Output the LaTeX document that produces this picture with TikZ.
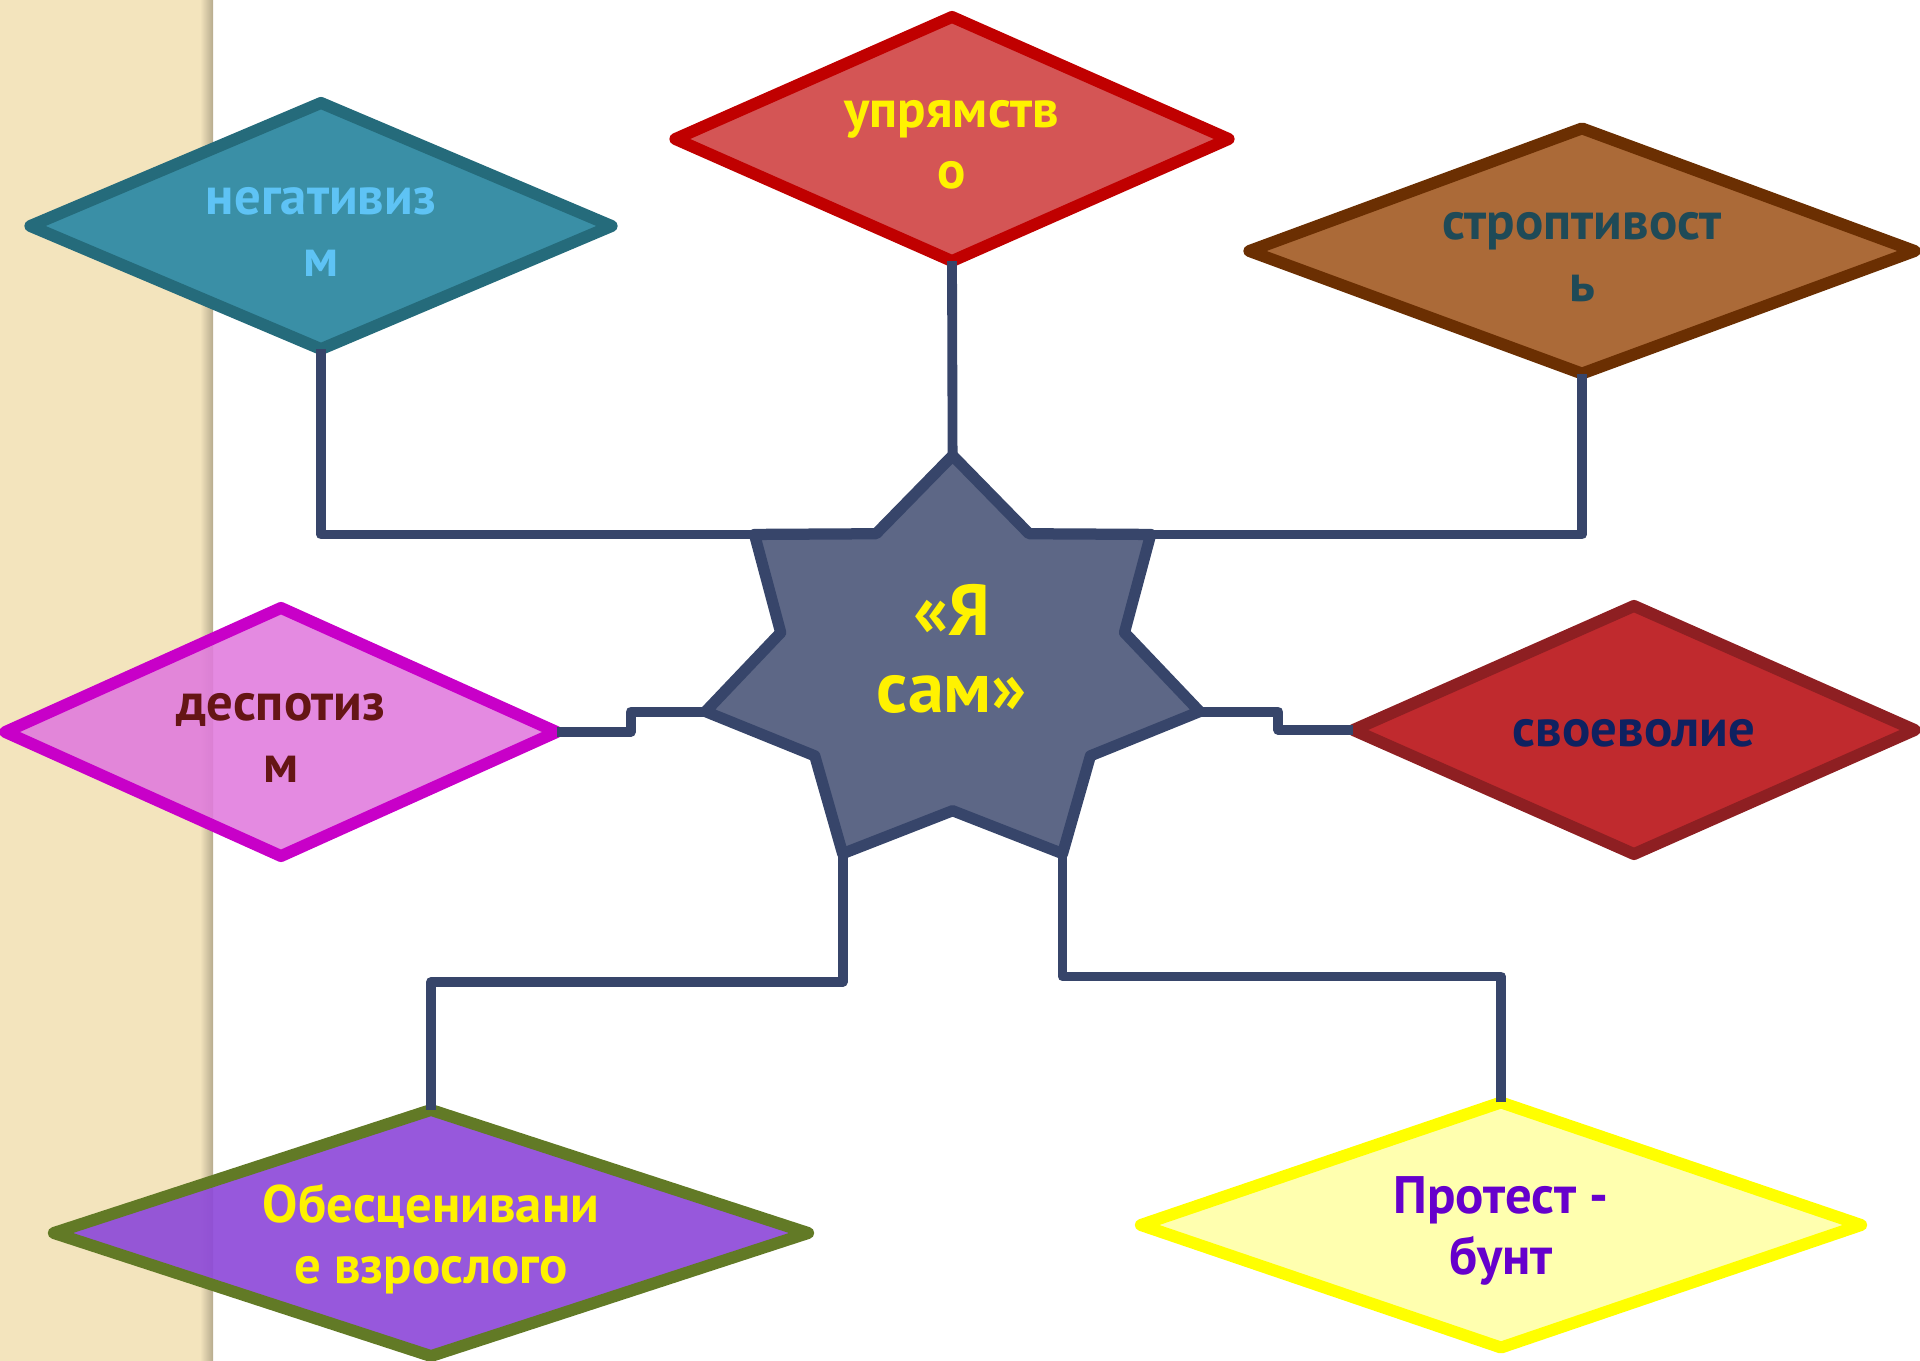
\documentclass[tikz,border=0pt]{standalone}
\usepackage{fontspec}
\setmainfont{PT Sans}
\usetikzlibrary{shapes.geometric,positioning,calc}

\definecolor{strip}{HTML}{F3E4BD}
\definecolor{navy}{HTML}{37456A}
\definecolor{starfill}{HTML}{5D6786}
\definecolor{negfill}{HTML}{3A8FA6}\definecolor{negline}{HTML}{256B7B}\definecolor{negtext}{HTML}{5EC3F5}
\definecolor{uprfill}{HTML}{D45555}\definecolor{uprline}{HTML}{C00000}
\definecolor{strfill}{HTML}{AB6A38}\definecolor{strline}{HTML}{6B2F02}\definecolor{strtext}{HTML}{1F4A57}
\definecolor{despfill}{HTML}{E07ADD}\definecolor{despline}{HTML}{C800C8}\definecolor{desptext}{HTML}{651515}
\definecolor{svofill}{HTML}{C02A2E}\definecolor{svoline}{HTML}{8E1F22}\definecolor{svotext}{HTML}{0F2160}
\definecolor{obesfill}{HTML}{8E4AD9}\definecolor{obesline}{HTML}{627A26}
\definecolor{protfill}{HTML}{FFFFAF}\definecolor{protline}{HTML}{FFFF00}\definecolor{prottext}{HTML}{6600CC}

\tikzset{
  diam/.style={diamond, draw, line width=3.4pt, line join=round, inner sep=0pt, outer sep=0pt},
  lbl/.style={align=center, font=\fontsize{15pt}{17.5pt}\selectfont\bfseries},
  link/.style={draw=navy, line width=2.8pt, line join=round},
}

\begin{document}
\begin{tikzpicture}[x=0.01cm,y=-0.01cm]
  \useasboundingbox (0,0) rectangle (1920,1361);
  % side strip
  \fill[strip] (0,0) rectangle (213,1361);
  \shade[left color=strip, right color=strip!75!black] (200,0) rectangle (213,1361);

  % star corners
  \foreach \i in {1,...,7}{
    \coordinate (o\i) at ({952.6+253.4*cos(90-(\i-1)*360/7)},{665-209.4*sin(90-(\i-1)*360/7)});
    \coordinate (n\i) at ({952.6+176.3*cos(90-(\i-0.5)*360/7)},{665-145.7*sin(90-(\i-0.5)*360/7)});
  }

  \node[diam, fill=negfill, draw=negline, minimum width=5.81cm, minimum height=2.46cm] (neg) at (321,226) {};
  \node[diam, fill=uprfill, draw=uprline, minimum width=5.53cm, minimum height=2.44cm] (upr) at (952,139) {};
  \node[diam, fill=strfill, draw=strline, minimum width=6.65cm, minimum height=2.45cm] (strop) at (1582,251) {};
  \node[diam, fill=despfill, fill opacity=0.88, draw=despline, minimum width=5.51cm, minimum height=2.48cm] (desp) at (281,732) {};
  \node[diam, fill=svofill, draw=svoline, minimum width=5.61cm, minimum height=2.48cm] (svo) at (1634,730) {};
  \node[diam, fill=obesfill, fill opacity=0.92, draw=obesline, minimum width=7.54cm, minimum height=2.46cm] (obes) at (431,1233) {};
  \node[diam, fill=protfill, draw=protline, minimum width=7.20cm, minimum height=2.45cm] (prot) at (1501,1225) {};

  \node[lbl, text=negtext] (negT) at (321,232) {негативиз\\м};
  \node[lbl, text=yellow] (uprT) at (952,145) {упрямств\\о};
  \node[lbl, text=strtext] (stropT) at (1582,257) {строптивост\\ь};
  \node[lbl, text=desptext] (despT) at (281,738) {деспотиз\\м};
  \node[lbl, text=svotext] (svoT) at (1634,733) {своеволие};
  \node[lbl, text=yellow] (obesT) at (431,1239) {Обесценивани\\е взрослого};
  \node[lbl, text=prottext] (protT) at (1501,1231) {Протест -\\бунт};

  % connectors
  \draw[link] (neg.south) |- (o7);
  \draw[link] (upr.south) -- (o1);
  \draw[link] (strop.south) |- (o2);
  \draw[link] (desp.east) -- ++(74,0) |- (o6);
  \draw[link] (svo.west) -- ++(-75,0) |- (o3);
  \draw[link] (obes.north) -- ++(0,-128) -| (o5);
  \draw[link] (prot.north) -- ++(0,-126) -| (o4);

  % star
  \draw[fill=starfill, draw=navy, line width=3.2pt, line join=round]
    (o1) -- (n1) -- (o2) -- (n2) -- (o3) -- (n3) -- (o4) -- (n4)
    -- (o5) -- (n5) -- (o6) -- (n6) -- (o7) -- (n7) -- cycle;
  \node[lbl, font=\fontsize{20.5pt}{22pt}\selectfont\bfseries, text=yellow] (me) at (952,649) {«Я\\сам»};
\end{tikzpicture}
\end{document}
